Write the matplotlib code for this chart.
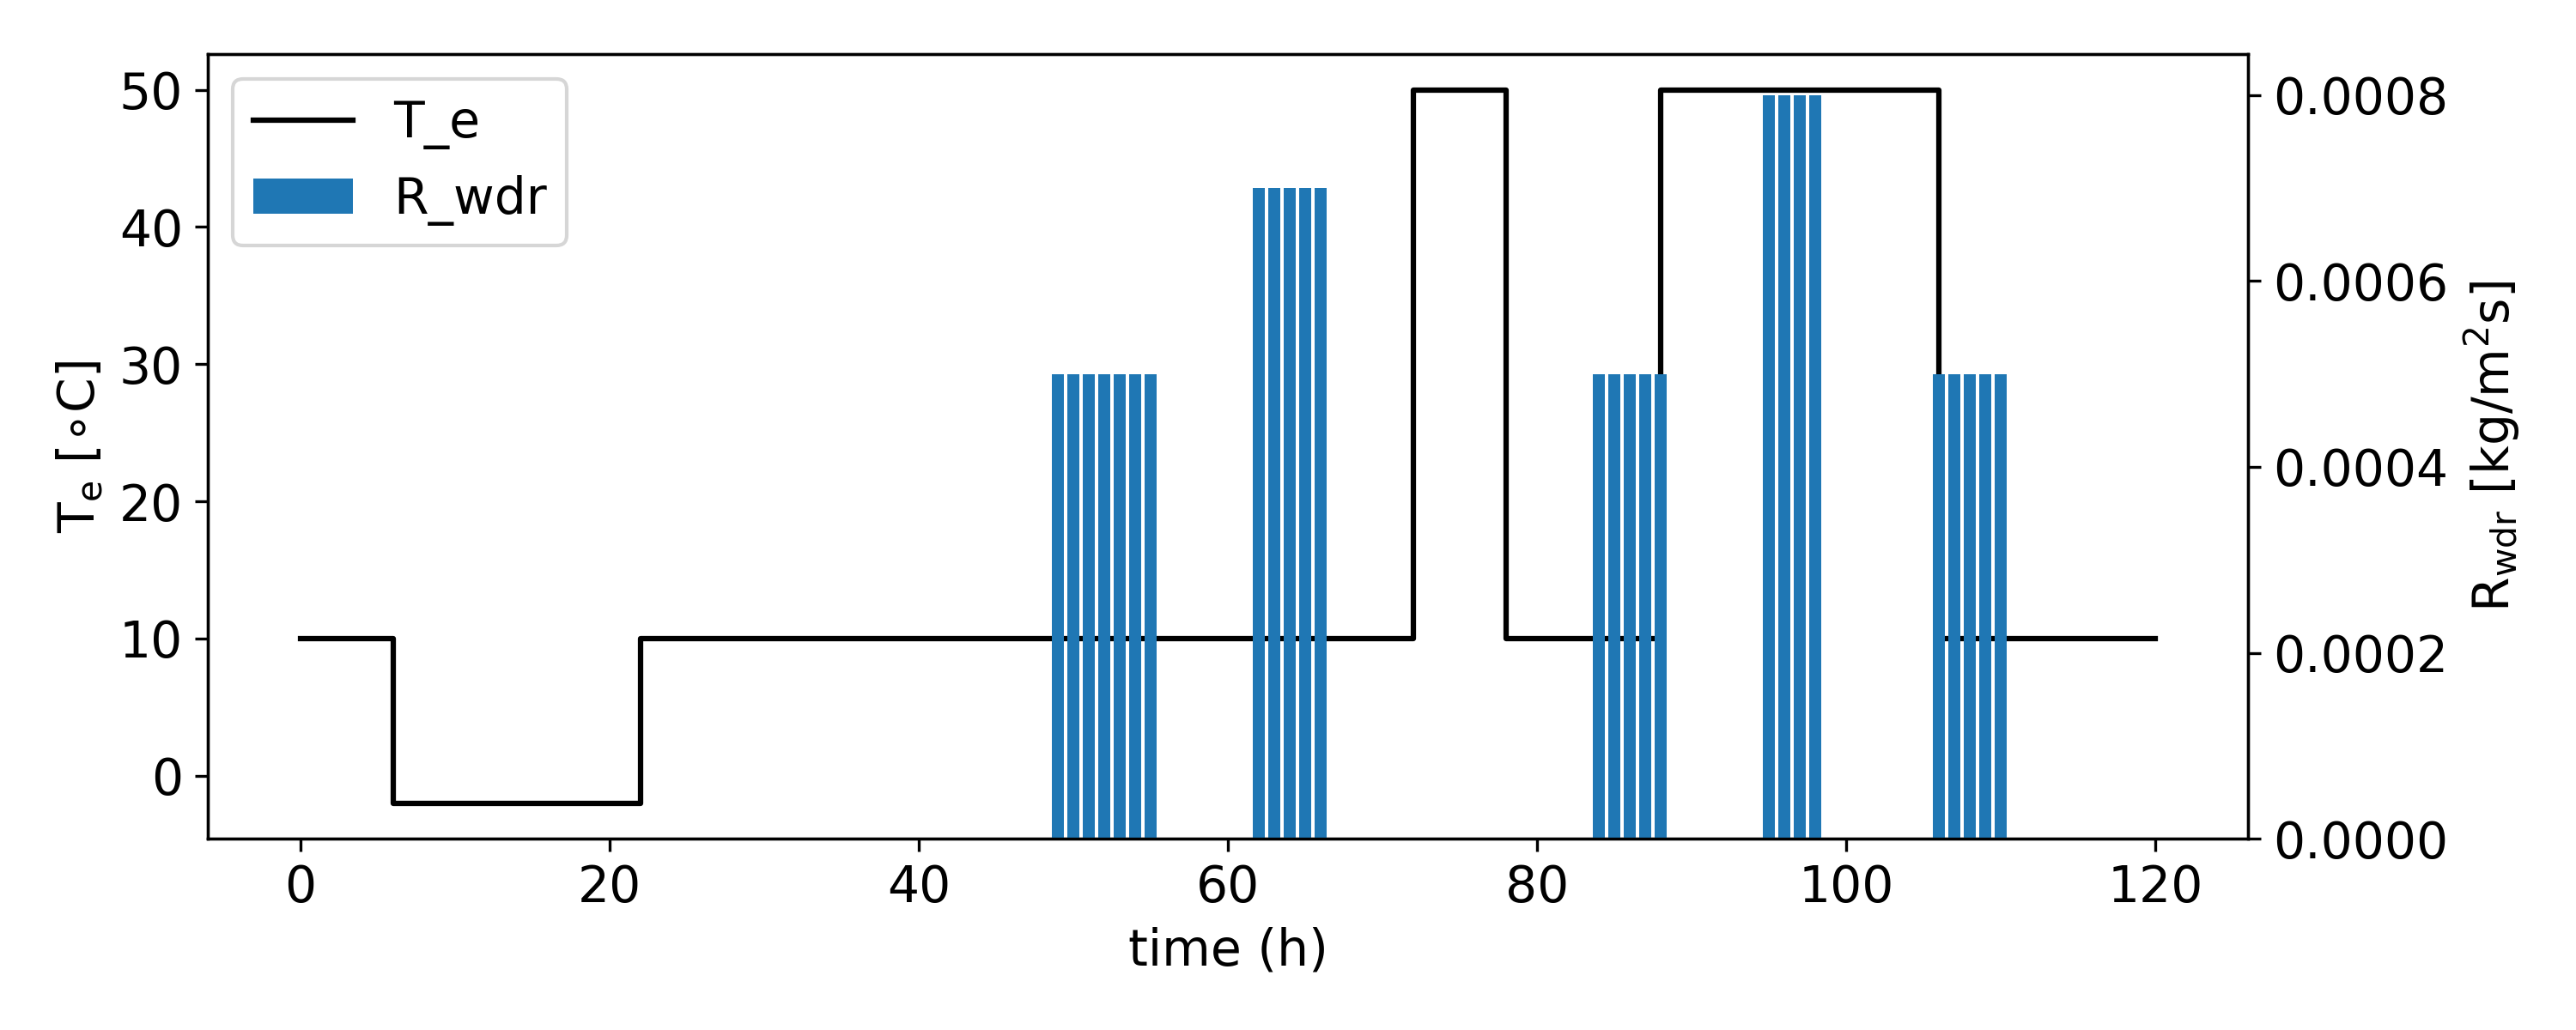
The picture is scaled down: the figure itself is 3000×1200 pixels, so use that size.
import numpy as np
import matplotlib.pyplot as plt

plt.rcParams['font.size'] = 14

# outdoor temperature steps (start time, value)
t_steps = [0, 6, 22, 72, 78, 88, 106, 120]
T_steps = [10, -2, 10, 50, 10, 50, 10, 10]

# wind driven rain bars
rain_hours = [49, 50, 51, 52, 53, 54, 55,
              62, 63, 64, 65, 66,
              84, 85, 86, 87, 88,
              95, 96, 97, 98,
              106, 107, 108, 109, 110]
rain_vals = [0.0005] * 7 + [0.0007] * 5 + [0.0005] * 5 + [0.0008] * 4 + [0.0005] * 5

fig, ax = plt.subplots(figsize=(10, 4), dpi=300)
line, = ax.step(t_steps, T_steps, where='post', color='k', label='T_e')
ax.set_xlabel('time (h)')
ax.set_ylabel(r'T$_{\rm e}$ [$\circ$C]')

ax2 = ax.twinx()
bars = ax2.bar(rain_hours, rain_vals, width=0.8, color='#1f77b4', label='R_wdr')
ax2.set_ylabel(r'R$_{\rm wdr}$ [kg/m$^2$s]')
ax2.set_ylim(0, 0.000844)
ax2.set_yticks([0, 0.0002, 0.0004, 0.0006, 0.0008])
ax2.set_yticklabels(['0.0000', '0.0002', '0.0004', '0.0006', '0.0008'])

ax.legend([line, bars], ['T_e', 'R_wdr'], loc='upper left')

plt.tight_layout()
plt.savefig('out.png')
